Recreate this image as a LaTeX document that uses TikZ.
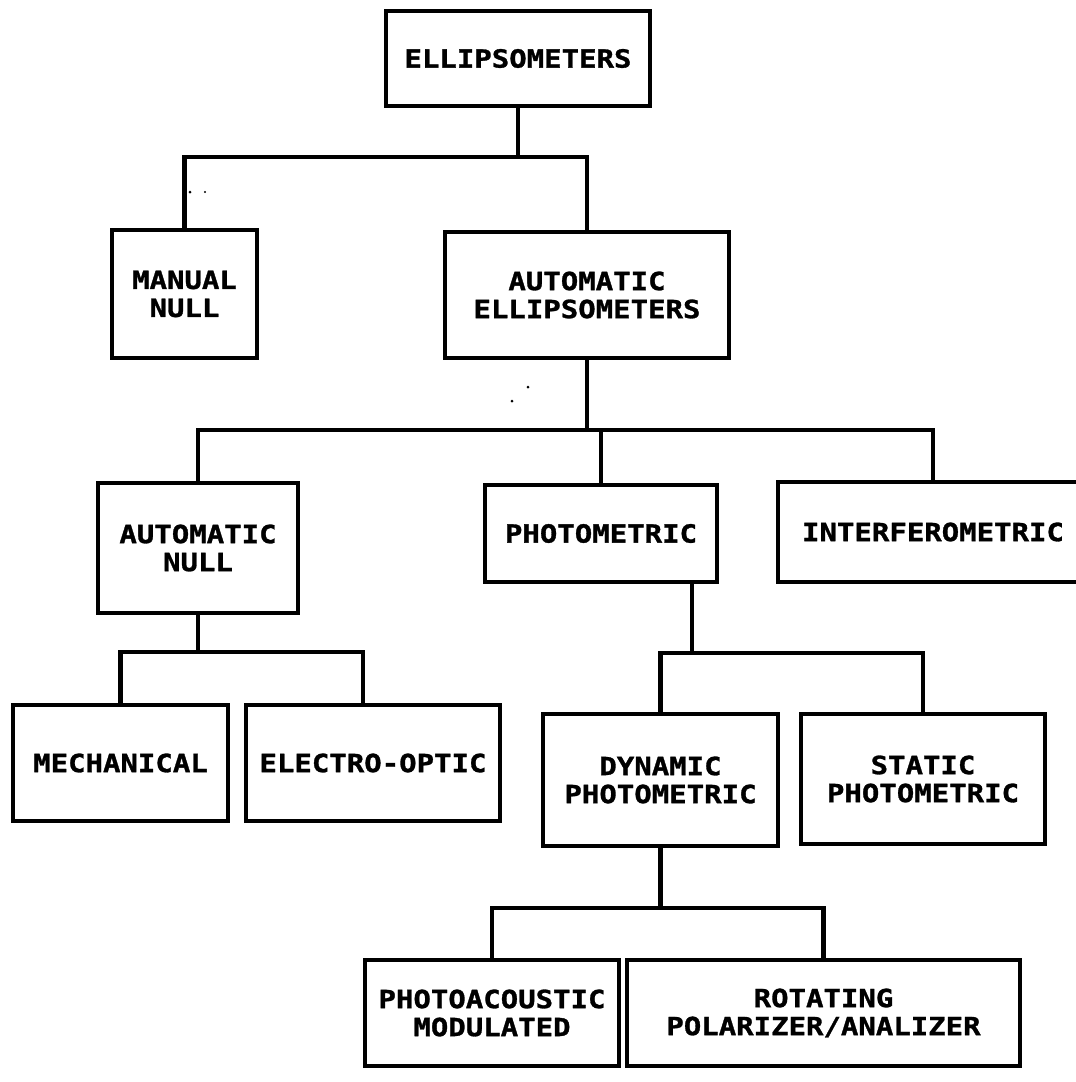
\documentclass[tikz,border=0pt]{standalone}
\usepackage{fontspec}
\newfontfamily\boxfont{DejaVu Sans Mono}[FakeStretch=1.16,FakeBold=1.2]
\begin{document}
\begin{tikzpicture}[x=1pt,y=-1pt,
  box/.style={draw, line width=4.5pt, rectangle, inner sep=0pt, align=center,
    font=\boxfont\bfseries\fontsize{25}{28}\selectfont},
  conn/.style={line width=4.5pt, line join=miter, line cap=rect},
  speck/.style={fill=black, draw=none}]
\fill[white] (0,0) rectangle (1076,1082);
\useasboundingbox (0,0) rectangle (1076,1082);

% nodes
\node[box, minimum width=264, minimum height=95]  (e)   at (518,58.5) {ELLIPSOMETERS};
\node[box, minimum width=145, minimum height=128] (mn)  at (184.5,294) {MANUAL\\NULL};
\node[box, minimum width=284, minimum height=126] (ae)  at (587,295) {AUTOMATIC\\ELLIPSOMETERS};
\node[box, minimum width=200, minimum height=130] (an)  at (198,548) {AUTOMATIC\\NULL};
\node[box, minimum width=232, minimum height=97]  (ph)  at (601,533.5) {PHOTOMETRIC};
\node[box, minimum width=310, minimum height=100] (if)  at (933,532) {INTERFEROMETRIC};
\node[box, minimum width=215, minimum height=116] (mech) at (120.5,763) {MECHANICAL};
\node[box, minimum width=254, minimum height=116] (eo)  at (373,763) {ELECTRO-OPTIC};
\node[box, minimum width=235, minimum height=132] (dp)  at (660.5,780) {DYNAMIC\\PHOTOMETRIC};
\node[box, minimum width=244, minimum height=130] (st)  at (923,779) {STATIC\\PHOTOMETRIC};
\node[box, minimum width=254, minimum height=106] (pa)  at (492,1013) {PHOTOACOUSTIC\\MODULATED};
\node[box, minimum width=393, minimum height=106] (rot) at (823.5,1013) {ROTATING\\POLARIZER/ANALIZER};

% junction levels
\coordinate (j1) at (0,157);
\coordinate (j2) at (0,430);
\coordinate (j3) at (363,652);
\coordinate (j4) at (692,653);
\coordinate (j5) at (0,908);

% connectors
\draw[conn] (e.south) -- (e.south |- j1);
\draw[conn] (mn.north) |- (ae.north |- j1) -- (ae.north);

\draw[conn] (ae.south) -- (ae.south |- j2);
\draw[conn] (an.north) |- (if.north |- j2) -- (if.north);
\draw[conn] (ph.north) -- (ph.north |- j2);

\draw[conn] (an.south) -- (an.south |- j3);
\draw[conn] (mech.north) |- (j3) -- (eo.north -| j3);

\draw[conn] (ph.south -| j4) -- (j4);
\draw[conn] (dp.north) |- (st.north |- j4) -- (st.north);

\draw[conn] (dp.south) -- (dp.south |- j5);
\draw[conn] (pa.north) |- (rot.north |- j5) -- (rot.north);

% scan specks
\fill[speck] (190,192) circle (1.5);
\fill[speck] (205,192) circle (1.2);
\fill[speck] (528,387) circle (1.5);
\fill[speck] (512,401) circle (1.5);
\end{tikzpicture}
\end{document}
